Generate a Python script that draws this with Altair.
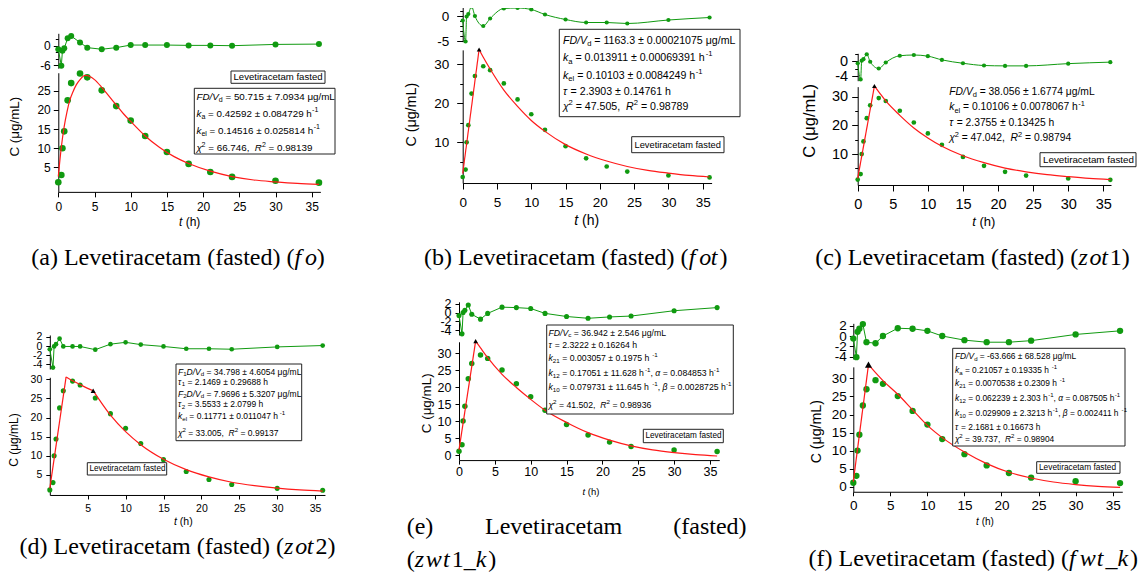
import altair as alt
import pandas as pd

# ---------------- observed data (same concentrations in all six fits) ----------------
t_obs = [0, 0.42, 0.57, 0.82, 1.29, 1.78, 3, 4, 6, 8, 10, 12, 15, 18, 21, 24, 30, 36]
c_obs = [1.1, 3.0, 10.0, 14.4, 22.5, 27.0, 29.5, 28.5, 25.1, 21.0, 17.2, 13.2, 9.0, 5.9, 3.8, 2.5, 1.5, 1.0]

# ---------------- residuals ----------------
res_a = [-1.1, -6.2, -1.6, -0.8, 2.3, 3.0, 1.0, -0.6, -1.1, -0.6, 0.2, 0.2, 0.2, 0.1, 0.1, 0.0, 0.4, 0.5]
res_b = [-0.9, -5.1, -0.1, 0.4, 1.9, 0.0, -2.0, -0.5, 1.5, 1.6, 1.3, 0.3, -0.7, -1.3, -1.3, -1.5, -0.8, -0.3]
res_c = [-0.6, -4.9, 0.1, 0.5, 1.8, -0.2, -2.0, -0.4, 1.4, 1.6, 1.3, 0.3, -0.6, -1.2, -1.3, -1.3, -0.7, -0.3]
res_d = [-0.7, -4.7, -0.1, 0.4, 1.6, -0.1, -0.1, -0.1, -0.8, 0.4, 0.8, 0.3, -0.1, -0.6, -0.6, -0.7, -0.2, 0.1]
res_e = [-0.7, -4.8, 0.0, 0.5, 1.7, -0.4, -1.5, -0.2, 1.2, 1.1, 0.9, -0.2, -0.9, -1.3, -1.0, -0.8, 0.4, 1.1]
res_f = [-0.5, -4.1, 0.8, 1.4, 2.3, -1.2, -1.4, 0.0, 1.5, 1.4, 1.0, 0.0, -0.8, -1.2, -1.2, -0.9, 0.3, 1.0]

# ---------------- fitted curves ----------------
fit_a_t = [0, 0.4, 0.8, 1.2, 1.6, 2, 2.5, 3, 3.7, 4.5, 5, 6, 7, 8, 9, 10, 12, 14, 16, 18, 21, 24, 27, 30, 33, 36]
fit_a_c = [2.6, 10.0, 15.5, 19.5, 22.6, 24.6, 26.6, 27.9, 29.0, 28.6, 27.9, 25.9, 23.6, 21.3, 19.0, 17.0,
           13.2, 10.2, 7.8, 6.0, 4.0, 2.6, 1.7, 1.2, 0.8, 0.55]
fit_a_s = [0] * 26

fit_b_t = [0, 2.39, 2.39, 3, 4, 6, 8, 10, 12, 15, 18, 21, 24, 27, 30, 33, 36]
fit_b_c = [2.0, 33.8, 33.8, 31.8, 28.8, 23.4, 19.2, 15.6, 12.8, 9.4, 7.0, 5.2, 3.8, 2.8, 2.1, 1.5, 1.1]
fit_b_s = [0, 0] + [1] * 15

fit_c_t = [0, 2.38, 2.38, 3, 4, 6, 8, 10, 12, 15, 18, 21, 24, 27, 30, 33, 36]
fit_c_c = [1.5, 33.7, 33.7, 31.7, 28.5, 23.5, 19.1, 15.6, 12.7, 9.4, 7.0, 5.1, 3.8, 2.8, 2.1, 1.5, 1.1]
fit_c_s = [0, 0] + [1] * 15

fit_d_t = [0, 2.15, 2.15, 3, 4, 5, 5.72, 5.72, 8, 10, 12, 15, 18, 21, 24, 27, 30, 33, 36]
fit_d_c = [1.5, 30.6, 30.6, 29.6, 28.6, 27.6, 27.0, 27.0, 20.6, 16.3, 12.9, 9.1, 6.4, 4.5, 3.1, 2.2, 1.55, 1.1, 0.8]
fit_d_s = [0, 0, 1, 1, 1, 1, 1] + [2] * 12

fit_e_t = [0, 2.32, 2.32, 3, 4, 6, 8, 10, 12, 15, 18, 21, 24, 27, 30, 33, 36]
fit_e_c = [1.5, 33.6, 33.6, 31.6, 28.7, 23.8, 19.9, 16.4, 13.2, 9.6, 6.6, 4.4, 2.7, 1.5, 0.7, 0.1, -0.3]
fit_e_s = [0, 0] + [1] * 15

fit_f_t = [0, 2.05, 2.05, 3, 4, 6, 8, 10, 12, 15, 18, 21, 24, 27, 30, 33, 36]
fit_f_c = [1.4, 33.8, 33.8, 31.6, 29.4, 25.6, 21.3, 17.0, 13.6, 9.6, 6.4, 4.0, 2.4, 1.3, 0.6, 0.1, -0.2]
fit_f_s = [0, 0] + [1] * 15

# peak (tau) markers
tau_t = {"b": 2.39, "c": 2.38, "d": 5.72, "e": 2.32, "f": 2.05}
tau_c = {"b": 33.8, "c": 33.7, "d": 27.0, "e": 33.6, "f": 33.8}

# ---------------- texts ----------------
legend_text = "Levetiracetam fasted"
params = {
    "a": [
        [("FD/V", "i"), ("d", "b"), (" = 50.715 ± 7.0934 μg/mL", "n")],
        [("k", "i"), ("a", "b"), (" = 0.42592 ± 0.084729 h", "n"), ("-1", "p")],
        [("k", "i"), ("el", "b"), (" = 0.14516 ± 0.025814 h", "n"), ("-1", "p")],
        [("χ", "i"), ("2", "p"), (" = 66.746,  ", "n"), ("R", "i"), ("2", "p"), (" = 0.98139", "n")],
    ],
    "b": [
        [("FD/V", "i"), ("d", "b"), (" = 1163.3 ± 0.00021075 μg/mL", "n")],
        [("k", "i"), ("a", "b"), (" = 0.013911 ± 0.00069391 h", "n"), ("-1", "p")],
        [("k", "i"), ("el", "b"), (" = 0.10103 ± 0.0084249 h", "n"), ("-1", "p")],
        [("τ", "i"), (" = 2.3903 ± 0.14761 h", "n")],
        [("χ", "i"), ("2", "p"), (" = 47.505,  ", "n"), ("R", "i"), ("2", "p"), (" = 0.98789", "n")],
    ],
    "c": [
        [("FD/V", "i"), ("d", "b"), (" = 38.056 ± 1.6774 μg/mL", "n")],
        [("k", "i"), ("el", "b"), (" = 0.10106 ± 0.0078067 h", "n"), ("-1", "p")],
        [("τ", "i"), (" = 2.3755 ± 0.13425 h", "n")],
        [("χ", "i"), ("2", "p"), (" = 47.042,  ", "n"), ("R", "i"), ("2", "p"), (" = 0.98794", "n")],
    ],
    "d": [
        [("F", "i"), ("1", "b"), ("D/V", "i"), ("d", "b"), (" = 34.798 ± 4.6054 μg/mL", "n")],
        [("τ", "i"), ("1", "b"), (" = 2.1469 ± 0.29688 h", "n")],
        [("F", "i"), ("2", "b"), ("D/V", "i"), ("d", "b"), (" = 7.9696 ± 5.3207 μg/mL", "n")],
        [("τ", "i"), ("2", "b"), (" = 3.5533 ± 2.0799 h", "n")],
        [("k", "i"), ("el", "b"), (" = 0.11771 ± 0.011047 h", "n"), ("-1", "p")],
        [("χ", "i"), ("2", "p"), (" = 33.005,  ", "n"), ("R", "i"), ("2", "p"), (" = 0.99137", "n")],
    ],
    "e": [
        [("FD/V", "i"), ("c", "b"), (" = 36.942 ± 2.546 μg/mL", "n")],
        [("τ", "i"), (" = 2.3222 ± 0.16264 h", "n")],
        [("k", "i"), ("21", "b"), (" =  0.003057 ± 0.1975 h", "n"), ("-1", "p")],
        [("k", "i"), ("12", "b"), (" = 0.17051 ± 11.628 h", "n"), ("-1", "p"), (", ", "n"), ("α", "i"),
         (" = 0.084853 h", "n"), ("-1", "p")],
        [("k", "i"), ("10", "b"), (" =  0.079731 ± 11.645 h", "n"), ("-1", "p"), (", ", "n"), ("β", "i"),
         (" = 0.0028725 h", "n"), ("-1", "p")],
        [("χ", "i"), ("2", "p"), (" = 41.502,  ", "n"), ("R", "i"), ("2", "p"), (" = 0.98936", "n")],
    ],
    "f": [
        [("FD/V", "i"), ("d", "b"), (" = -63.666 ± 68.528 μg/mL", "n")],
        [("k", "i"), ("a", "b"), (" =  0.21057 ± 0.19335 h", "n"), ("-1", "p")],
        [("k", "i"), ("21", "b"), (" =  0.0070538 ± 0.2309 h", "n"), ("-1", "p")],
        [("k", "i"), ("12", "b"), (" = 0.062239 ± 2.303 h", "n"), ("-1", "p"), (", ", "n"), ("α", "i"),
         (" = 0.087505 h", "n"), ("-1", "p")],
        [("k", "i"), ("10", "b"), (" = 0.029909 ± 2.3213 h", "n"), ("-1", "p"), (", ", "n"), ("β", "i"),
         (" =  0.002411 h", "n"), ("-1", "p")],
        [("τ", "i"), (" = 2.1681 ± 0.16673 h", "n")],
        [("χ", "i"), ("2", "p"), (" = 39.737,  ", "n"), ("R", "i"), ("2", "p"), (" = 0.98904", "n")],
    ],
}
captions = {
    "a": [("(a) Levetiracetam (fasted) (", "n"), ("fo", "m"), (")", "n")],
    "b": [("(b) Levetiracetam (fasted) (", "n"), ("fot", "m"), (")", "n")],
    "c": [("(c) Levetiracetam (fasted) (", "n"), ("zot1", "m"), (")", "n")],
    "d": [("(d) Levetiracetam (fasted) (", "n"), ("zot2", "m"), (")", "n")],
    "f": [("(f) Levetiracetam (fasted) (", "n"), ("fwt_k", "m"), (")", "n")],
}
caption_e_words = ["(e)", "Levetiracetam", "(fasted)"]
caption_e_line2 = [("(", "n"), ("zwt1_k", "m"), (")", "n")]
x_title = [("t", "i"), (" (h)", "n")]
y_title = "C (μg/mL)"

res_data = {"a": res_a, "b": res_b, "c": res_c, "d": res_d, "e": res_e, "f": res_f}
fit_data = {
    "a": (fit_a_t, fit_a_c, fit_a_s), "b": (fit_b_t, fit_b_c, fit_b_s), "c": (fit_c_t, fit_c_c, fit_c_s),
    "d": (fit_d_t, fit_d_c, fit_d_s), "e": (fit_e_t, fit_e_c, fit_e_s), "f": (fit_f_t, fit_f_c, fit_f_s),
}

# ---------------- layout (page pixels) ----------------
O = 8
W, H = 1130, 567
FONT = "Liberation Sans"
SERIF = "Liberation Serif"
GREEN = "#109a10"
RED = "#ff1a1a"

P = {
    "a": dict(x0=58.3, xpu=7.24, xmax=36.2, xt=[0, 5, 10, 15, 20, 25, 30, 35], tfs=12, xtick=5, xlc=207,
              ytick=5, ypad=3,
              my0=186.5, mypu=3.83, mdom=(-1.4, 29.7), myt=[5, 10, 15, 20, 25], mym=[],
              ry0=45.7, rypu=3.22, rdom=(-7.0, 3.85), ryt=[0, -6], rym=[2, -2, -4],
              rinterp="linear", psize=44, rsize=36, trisize=0,
              xtitle=(189.7, 221.7, 12), ytitle=(15, 126.7, 13.4),
              box=(194.3, 88.3, 335, 154), pfs=9.8, px=196.5, py=[96.7, 114, 130.7, 148.3],
              leg=(231, 71, 325, 83.3), lx=233.5, ly=77.3, lfs=9.6, cap=(178, 258.3)),
    "b": dict(x0=462.7, xpu=6.857, xmax=36.3, xt=[0, 5, 10, 15, 20, 25, 30, 35], tfs=13.5, xtick=6, xlc=201.7,
              ytick=6, ypad=8,
              my0=181.3, mypu=3.9, mdom=(-0.44, 33.7), myt=[10, 20, 30], mym=[5, 15, 25],
              ry0=16, rypu=5.0, rdom=(-5.15, 2.0), ryt=[0, -5], rym=[2, 1, -1, -2, -3, -4],
              rinterp="monotone", psize=22, rsize=18, trisize=22,
              xtitle=(586.7, 221, 14), ytitle=(411.7, 114.7, 14.3),
              box=(559.3, 29.3, 740, 116.7), pfs=10.6, px=563, py=[40.7, 58.3, 76, 91.7, 106.7],
              leg=(631.7, 136.7, 724, 152.7), lx=634.5, ly=144.5, lfs=9.3, cap=(575.8, 258.3)),
    "c": dict(x0=857.7, xpu=7.017, xmax=36.1, xt=[0, 5, 10, 15, 20, 25, 30, 35], tfs=14.5, xtick=6, xlc=204,
              ytick=6, ypad=4,
              my0=182.7, mypu=2.867, mdom=(-0.8, 33.5), myt=[10, 20, 30], mym=[5, 15, 25],
              ry0=61, rypu=3.75, rdom=(-5.25, 2.05), ryt=[0, -4], rym=[2, -2],
              rinterp="monotone", psize=22, rsize=18, trisize=22,
              xtitle=(983.8, 221.7, 13), ytitle=(810, 120.8, 16.5),
              box=None, pfs=10.3, px=949.3, py=[91.7, 107.3, 122.7, 138.3],
              leg=(1040, 152.7, 1136, 166.7), lx=1043, ly=159.7, lfs=9.8, cap=(972.5, 258.3)),
    "d": dict(x0=49.8, xpu=7.58, xmax=36.3, xt=[5, 10, 15, 20, 25, 30, 35], tfs=10.5, xtick=4, xlc=508.3,
              ytick=4, ypad=4,
              my0=494.1, mypu=3.83, mdom=(-0.23, 30.5), myt=[5, 10, 15, 20, 25, 30], mym=[],
              ry0=346, rypu=4.6, rdom=(-5.0, 2.4), ryt=[2, 0, -2, -4], rym=[],
              rinterp="linear", psize=26, rsize=22, trisize=26,
              xtitle=(183.3, 521.7, 10.5), ytitle=(14, 440, 12),
              box=(176, 364, 301.7, 440.7), pfs=8.5, px=178, py=[371.7, 381.7, 393.7, 404.3, 416.3, 432.7],
              leg=(87.3, 462.7, 166.7, 475), lx=89.5, ly=468.9, lfs=8.2, cap=(177.5, 546.7)),
    "e": dict(x0=459, xpu=7.17, xmax=36.3, xt=[0, 5, 10, 15, 20, 25, 30, 35], tfs=12.5, xtick=4, xlc=471,
              ytick=4, ypad=4,
              my0=455, mypu=3.39, mdom=(-1.5, 33.4), myt=[0, 5, 10, 15, 20, 25, 30], mym=[],
              ry0=312.5, rypu=4.45, rdom=(-5.05, 2.4), ryt=[2, 0, -2, -4], rym=[],
              rinterp="linear", psize=30, rsize=26, trisize=22,
              xtitle=(591, 491.7, 9.5), ytitle=(426.7, 403.3, 13.4),
              box=(546.7, 325, 733.3, 414), pfs=8.7, px=548.5, py=[332.7, 345, 358.3, 373.3, 387.3, 405],
              leg=(643.3, 429.3, 723.3, 442.7), lx=645.5, ly=436, lfs=8.2, cap=None),
    "f": dict(x0=853.3, xpu=7.41, xmax=36.3, xt=[0, 5, 10, 15, 20, 25, 30, 35], tfs=13.5, xtick=4, xlc=504.3,
              ytick=4, ypad=3,
              my0=486.7, mypu=3.61, mdom=(-1.4, 33.2), myt=[0, 5, 10, 15, 20, 25, 30], mym=[],
              ry0=336, rypu=5.17, rdom=(-4.45, 2.45), ryt=[2, 0, -2, -4], rym=[],
              rinterp="linear", psize=40, rsize=40, trisize=50,
              xtitle=(985, 522.3, 10), ytitle=(816.7, 431.7, 14.2),
              box=(952.7, 348.3, 1125, 446), pfs=8.4, px=955, py=[356, 370, 383.3, 398.3, 413.3, 426.7, 439.3],
              leg=(1036.7, 461.7, 1120, 473.3), lx=1039, ly=467.5, lfs=8.3, cap=(973.3, 559.3)),
}

# ---------------- font metrics (per 1000 em) ----------------
AW = {" ": 278, "(": 333, ")": 333, "+": 584, ",": 278, "-": 333, ".": 278, "/": 278, ":": 278, "=": 584,
      "_": 556, "±": 584, "μ": 576, "χ": 520, "τ": 440, "α": 580, "β": 575,
      "A": 667, "B": 667, "C": 722, "D": 722, "E": 667, "F": 611, "G": 778, "H": 722, "I": 278, "J": 500,
      "K": 667, "L": 556, "M": 833, "N": 722, "O": 778, "P": 667, "Q": 778, "R": 722, "S": 667, "T": 611,
      "U": 722, "V": 667, "W": 944, "X": 667, "Y": 667, "Z": 611,
      "a": 556, "b": 556, "c": 500, "d": 556, "e": 556, "f": 278, "g": 556, "h": 556, "i": 222, "j": 222,
      "k": 500, "l": 222, "m": 833, "n": 556, "o": 556, "p": 556, "q": 556, "r": 333, "s": 500, "t": 278,
      "u": 556, "v": 500, "w": 722, "x": 500, "y": 500, "z": 500}
for _d in "0123456789":
    AW[_d] = 556
TW = {" ": 250, "(": 333, ")": 333, "_": 500, "L": 611, "a": 444, "b": 500, "c": 444, "d": 500, "e": 444,
      "f": 333, "g": 500, "h": 500, "i": 278, "k": 500, "l": 278, "m": 778, "n": 500, "o": 500, "r": 333,
      "s": 389, "t": 278, "u": 500, "v": 500, "w": 722, "z": 444}
for _d in "0123456789":
    TW[_d] = 500
MW = {"f": 0.44, "o": 0.485, "t": 0.361, "z": 0.465, "w": 0.716, "k": 0.521, "_": 0.5, "1": 0.5, "2": 0.5}


def width(s, fs, table):
    return sum(table.get(ch, 556) for ch in s) * fs / 1000.0


rows = {"sans_n": [], "sans_i": [], "serif_n": [], "serif_i": [], "rot": []}


def put(key, x, y, text, fs):
    rows[key].append(dict(px=x - O, py=y - O, text=text, fs=fs))


def rich(x, y, segs, fs):
    for text, kind in segs:
        size = fs * 0.72 if kind in ("b", "p") else fs
        dy = fs * 0.32 if kind == "b" else (-fs * 0.36 if kind == "p" else 0)
        lead = len(text) - len(text.lstrip(" "))
        body = text.strip(" ")
        if body:
            put("sans_i" if kind == "i" else "sans_n", x + width(" " * lead, size, AW), y + dy, body, size)
        x += width(text, size, AW)


def rich_width(segs, fs):
    return sum(width(t, fs * 0.72 if k in ("b", "p") else fs, AW) for t, k in segs)


def serif_width(segs, fs):
    w = 0
    for text, kind in segs:
        w += sum(MW[ch] * fs for ch in text) if kind == "m" else width(text, fs, TW)
    return w


def serif_line(x, y, segs, fs):
    for text, kind in segs:
        if kind == "m":
            for ch in text:
                put("serif_n" if ch.isdigit() else "serif_i", x, y, ch, fs)
                x += MW[ch] * fs
        else:
            lead = len(text) - len(text.lstrip(" "))
            body = text.strip(" ")
            if body:
                put("serif_n", x + width(" " * lead, fs, TW), y, body, fs)
            x += width(text, fs, TW)


CAP_FS = 24
boxes = []
for k, p in P.items():
    for segs, yy in zip(params[k], p["py"]):
        rich(p["px"], yy, segs, p["pfs"])
    if p["box"]:
        boxes.append(p["box"])
    boxes.append(p["leg"])
    rich(p["lx"], p["ly"], [(legend_text, "n")], p["lfs"])
    cx, cy, fs = p["xtitle"]
    rich(cx - rich_width(x_title, fs) / 2, cy, x_title, fs)
    yx, yy, fs = p["ytitle"]
    put("rot", yx, yy, y_title, fs)
    if p["cap"]:
        cx, cy = p["cap"]
        serif_line(cx - serif_width(captions[k], CAP_FS) / 2, cy, captions[k], CAP_FS)

# justified caption (e)
serif_line(406.7, 526.7, [(caption_e_words[0], "n")], CAP_FS)
serif_line(485, 526.7, [(caption_e_words[1], "n")], CAP_FS)
serif_line(673.3, 526.7, [(caption_e_words[2], "n")], CAP_FS)
serif_line(406.7, 560, caption_e_line2, CAP_FS)


# ---------------- helpers ----------------
def scale(dmin, dmax, pmin, pmax):
    return alt.Scale(domain=[dmin, dmax], range=[pmin, pmax], nice=False, zero=False)


def axis(orient, pos, values, fs=12, tick=5, pad=3, labels=True):
    off = -pos if orient == "left" else pos - H
    kw = dict(orient=orient, offset=off, values=values, title=None, grid=False,
              domainColor="black", domainWidth=1, tickColor="black", tickWidth=1, tickSize=tick)
    if labels:
        kw.update(labelFont=FONT, labelFontSize=fs, labelColor="black", labelPadding=pad,
                  labelOverlap=False, labelFlush=False, labelBound=False,
                  labelExpr="datum.value < 0 ? '-' + abs(datum.value) : '' + datum.value")
    else:
        kw.update(labels=False, domain=False)
    return alt.Axis(**kw)


layers = []
for k, p in P.items():
    gx0 = p["x0"] - O
    xsc = scale(0, p["xmax"], gx0, gx0 + p["xmax"] * p["xpu"])
    rlo, rhi = p["rdom"]
    rsc = scale(rlo, rhi, p["ry0"] - rlo * p["rypu"] - O, p["ry0"] - rhi * p["rypu"] - O)
    mlo, mhi = p["mdom"]
    mbottom = p["my0"] - mlo * p["mypu"] - O
    msc = scale(mlo, mhi, mbottom, p["my0"] - mhi * p["mypu"] - O)

    res_df = pd.DataFrame({"t": t_obs, "r": res_data[k]})
    obs_df = pd.DataFrame({"t": t_obs, "c": c_obs})
    ft, fc, fsg = fit_data[k]
    fit_df = pd.DataFrame({"t": ft, "c": fc, "seg": fsg})

    # residual trace (line carries minor ticks, points carry labelled axis)
    r_minor = axis("left", gx0, p["rym"], tick=3, labels=False) if p["rym"] else None
    layers.append(alt.Chart(res_df).mark_line(color=GREEN, strokeWidth=1, interpolate=p["rinterp"]).encode(
        x=alt.X("t:Q", scale=xsc, axis=None),
        y=alt.Y("r:Q", scale=rsc, axis=r_minor)))
    layers.append(alt.Chart(res_df).mark_circle(color=GREEN, opacity=1, size=p["rsize"]).encode(
        x=alt.X("t:Q", scale=xsc, axis=None),
        y=alt.Y("r:Q", scale=rsc, axis=axis("left", gx0, p["ryt"], fs=p["tfs"], tick=p["ytick"], pad=p["ypad"]))))

    # observed concentrations
    xpad = p["xlc"] - (mbottom + O) - p["xtick"] - 0.43 * p["tfs"]
    layers.append(alt.Chart(obs_df).mark_circle(color=GREEN, opacity=1, size=p["psize"]).encode(
        x=alt.X("t:Q", scale=xsc, axis=axis("bottom", mbottom, p["xt"], fs=p["tfs"], tick=p["xtick"], pad=xpad)),
        y=alt.Y("c:Q", scale=msc, axis=axis("left", gx0, p["myt"], fs=p["tfs"], tick=p["ytick"], pad=p["ypad"]))))

    # fitted curve
    m_minor = axis("left", gx0, p["mym"], tick=3, labels=False) if p["mym"] else None
    layers.append(alt.Chart(fit_df).mark_line(color=RED, strokeWidth=1.2, interpolate="monotone").encode(
        x=alt.X("t:Q", scale=xsc, axis=None),
        y=alt.Y("c:Q", scale=msc, axis=m_minor),
        detail="seg:N"))

    if k in tau_t:
        tri_df = pd.DataFrame({"t": [tau_t[k]], "c": [tau_c[k]]})
        layers.append(alt.Chart(tri_df).mark_point(shape="triangle-up", filled=True, color="black", opacity=1,
                                                   size=p["trisize"]).encode(
            x=alt.X("t:Q", scale=xsc, axis=None),
            y=alt.Y("c:Q", scale=msc, axis=None)))

# annotation boxes
box_df = pd.DataFrame([dict(x1=b[0] - O, y1=b[1] - O, x2=b[2] - O, y2=b[3] - O) for b in boxes])
layers.append(alt.Chart(box_df).mark_rect(fill="white", stroke="#222222", strokeWidth=1).encode(
    x=alt.X("x1:Q", scale=None, axis=None), x2="x2:Q",
    y=alt.Y("y1:Q", scale=None, axis=None), y2="y2:Q"))


def text_layer(key, font, style, angle=0, align="left"):
    df = pd.DataFrame(rows[key])
    return alt.Chart(df).mark_text(font=font, fontStyle=style, align=align, baseline="middle",
                                   color="black", angle=angle).encode(
        x=alt.X("px:Q", scale=None, axis=None),
        y=alt.Y("py:Q", scale=None, axis=None),
        size=alt.Size("fs:Q", scale=None, legend=None),
        text="text:N")


layers.append(text_layer("sans_n", FONT, "normal"))
layers.append(text_layer("sans_i", FONT, "italic"))
layers.append(text_layer("serif_n", SERIF, "normal"))
layers.append(text_layer("serif_i", SERIF, "italic"))
layers.append(text_layer("rot", FONT, "normal", angle=270, align="center"))

chart = alt.layer(*layers).resolve_scale(x="independent", y="independent").properties(
    width=W, height=H, autosize=alt.AutoSizeParams(type="none"), padding=0, background="white"
).configure_view(stroke=None)

chart.save("out.html", embed_options={"renderer": "svg", "actions": False})
